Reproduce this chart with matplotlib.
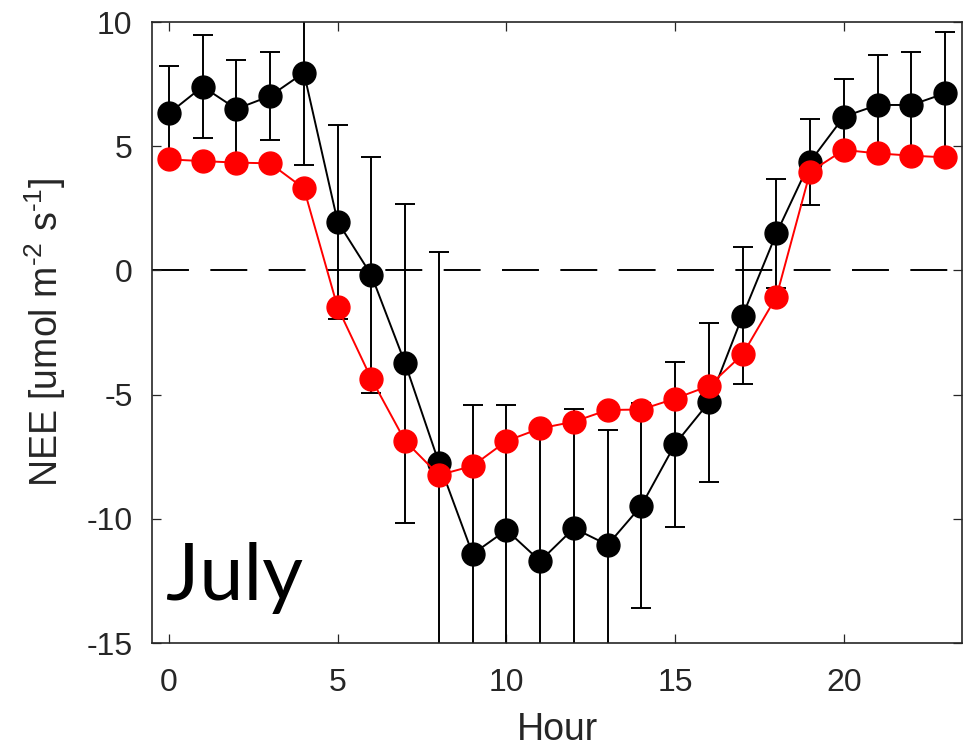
import numpy as np
import matplotlib
matplotlib.use('Agg')
import matplotlib.pyplot as plt

plt.rcParams['font.family'] = ['Liberation Sans', 'DejaVu Sans']
plt.rcParams['axes.unicode_minus'] = False
plt.rcParams['mathtext.fontset'] = 'custom'
plt.rcParams['mathtext.rm'] = 'Liberation Sans'
plt.rcParams['mathtext.it'] = 'Liberation Sans:italic'
plt.rcParams['mathtext.bf'] = 'Liberation Sans:bold'

# Hourly mean NEE, July
hours = np.arange(24)
nee_obs = [6.32, 7.40, 6.50, 7.02, 7.96, 1.96, -0.19, -3.74, -7.74, -11.42, -10.45, -11.70,
           -10.38, -11.05, -9.47, -6.99, -5.31, -1.82, 1.49, 4.38, 6.19, 6.66, 6.66, 7.13]
nee_err = [1.92, 2.07, 1.97, 1.76, 3.72, 3.90, 4.76, 6.42, 8.49, 6.00, 5.03, 5.20,
           4.80, 4.62, 4.12, 3.32, 3.20, 2.75, 2.19, 1.73, 1.52, 2.01, 2.13, 2.48]
nee_mod = [4.47, 4.40, 4.34, 4.31, 3.30, -1.49, -4.37, -6.87, -8.24, -7.87, -6.87, -6.36,
           -6.09, -5.62, -5.60, -5.16, -4.65, -3.38, -1.06, 3.97, 4.85, 4.71, 4.62, 4.55]

fig = plt.figure(figsize=(9.7, 7.51), dpi=100)
ax = fig.add_axes([0.1567, 0.1438, 0.8351, 0.8269])

ax.axhline(0, color='black', lw=1.4, linestyle=(0, (19, 11)), zorder=1)

ax.errorbar(hours, nee_obs, yerr=nee_err, color='black', lw=1.4, elinewidth=1.4,
            capsize=7.5, capthick=1.4, marker='o', ms=16.5, mfc='black', mec='black',
            zorder=2)
ax.plot(hours, nee_mod, color='red', lw=1.4, marker='o', ms=16.5, mfc='red', mec='red',
        zorder=3)

ax.set_xlim(-0.5, 23.5)
ax.set_ylim(-15, 10)
ax.set_xticks([0, 5, 10, 15, 20])
ax.set_yticks([-15, -10, -5, 0, 5, 10])

ax.tick_params(direction='in', length=6.5, width=0.9, top=True, right=True,
               labelsize=23, colors='#262626')
ax.tick_params(axis='x', pad=18)
ax.tick_params(axis='y', pad=14)
for s in ax.spines.values():
    s.set_color('#262626')
    s.set_linewidth(1.2)

ax.set_xlabel('Hour', fontsize=27, color='#262626', labelpad=10)
ax.set_ylabel(r'NEE [umol m$^{\mathrm{\text{-}2}}$ s$^{\mathrm{\text{-}1}}$]', fontsize=27,
              color='#262626', labelpad=13)

ax.text(0.017, 0.07, 'July', transform=ax.transAxes, fontsize=57,
        family=['Lato', 'DejaVu Sans'], color='black', ha='left', va='baseline')

fig.savefig('out.png', dpi=100)
